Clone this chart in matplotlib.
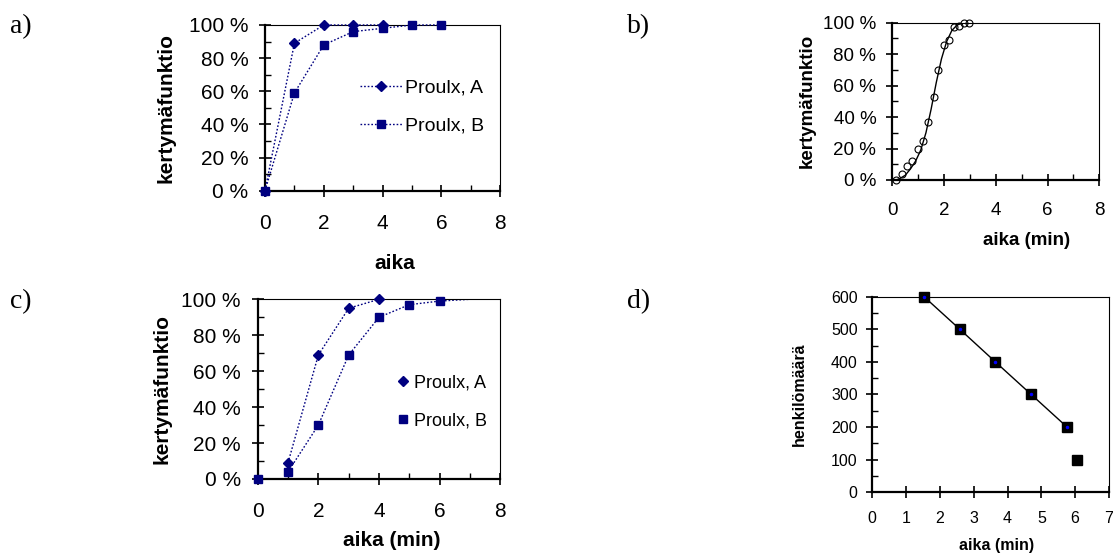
import matplotlib.pyplot as plt
from matplotlib.ticker import MultipleLocator

plt.rcParams['font.family'] = ['Liberation Sans', 'DejaVu Sans']

NAVY = '#000080'
DOT = (0, (1.2, 1.4))

# a) Proulx A ja B
a_x_A = [0, 1, 2, 3, 4]
a_y_A = [0, 89, 100, 100, 100]
a_x_B = [0, 1, 2, 3, 4, 5, 6]
a_y_B = [0, 59, 88, 96, 98, 100, 100]

# b) mitatut pisteet ja sovitettu käyrä
b_x = [0.15, 0.37, 0.57, 0.77, 0.98, 1.17, 1.38, 1.6, 1.78, 1.99, 2.18, 2.37, 2.58, 2.78, 2.98]
b_y = [0, 4, 9, 12, 20, 25, 37, 53, 70, 86, 89, 97, 98, 100, 100]
b_fit_x = [0.15, 0.3, 0.5, 0.7, 0.9, 1.1, 1.3, 1.5, 1.7, 1.9, 2.1, 2.3, 2.5, 2.7, 2.9, 3.0]
b_fit_y = [0, 1, 3, 7, 12, 19, 30, 45, 62, 77, 88, 95, 98.5, 99.7, 100, 100]

# c) Proulx A ja B
c_x_A = [1, 2, 3, 4]
c_y_A = [9, 69, 95, 100]
c_x_B = [0, 1, 2, 3, 4, 5, 6]
c_y_B = [0, 4, 30, 69, 90, 97, 99]
c_line_x_B = [1, 2, 3, 4, 5, 6, 7]
c_line_y_B = [4, 30, 69, 90, 97, 99, 100]

# d) henkilömäärä
d_x = [1.53, 2.59, 3.64, 4.70, 5.76]
d_y = [600, 500, 400, 300, 200]
d_x_last = [6.06]
d_y_last = [100]

pct_ticks = [0, 20, 40, 60, 80, 100]
pct_labels = ['0 %', '20 %', '40 %', '60 %', '80 %', '100 %']


def excel_axes(ax, fs, xpad, ypad):
    for s in ['left', 'bottom']:
        ax.spines[s].set_linewidth(1.6)
    for s in ['top', 'right']:
        ax.spines[s].set_linewidth(0.8)
    ax.tick_params(which='major', direction='inout', length=9, width=1.2,
                   labelsize=fs)
    ax.tick_params(axis='x', which='major', pad=xpad)
    ax.tick_params(axis='y', which='major', pad=ypad)
    ax.tick_params(which='minor', direction='in', length=4, width=1)


fig = plt.figure(figsize=(11.13, 5.54), dpi=100)

# a)
ax = fig.add_axes([0.2381, 0.6558, 0.2114, 0.2991])
ax.plot(a_x_A, a_y_A, ls=DOT, color=NAVY, lw=1, marker='D', ms=5,
        clip_on=False, zorder=3, label='Proulx, A')
ax.plot(a_x_B, a_y_B, ls=DOT, color=NAVY, lw=1, marker='s', ms=6,
        clip_on=False, zorder=3, label='Proulx, B')
ax.set_xlim(0, 8)
ax.set_ylim(0, 100)
ax.set_yticks(pct_ticks)
ax.set_yticklabels(pct_labels)
ax.xaxis.set_major_locator(MultipleLocator(2))
ax.xaxis.set_minor_locator(MultipleLocator(1))
ax.yaxis.set_minor_locator(MultipleLocator(10))
excel_axes(ax, 15, 12, 7.5)
ax.set_ylabel('kertymäfunktio', fontsize=15, fontweight='bold')
ax.set_xlabel('aika', fontsize=15, fontweight='bold')
ax.yaxis.set_label_coords(-0.38, 0.5)
ax.xaxis.set_label_coords(0.55, -0.38)
ax.legend(loc='upper left', bbox_to_anchor=(0.37, 0.72), frameon=False,
          fontsize=14, handlelength=2.2, handletextpad=0.1, labelspacing=1.05,
          borderaxespad=0)

# b)
ax = fig.add_axes([0.8017, 0.6751, 0.1860, 0.2839])
ax.plot(b_fit_x, b_fit_y, '-', color='black', lw=1)
ax.plot(b_x, b_y, 'o', mfc='none', mec='black', ms=5, mew=0.8, clip_on=False)
ax.set_xlim(0, 8)
ax.set_ylim(0, 100)
ax.set_yticks(pct_ticks)
ax.set_yticklabels(pct_labels)
ax.xaxis.set_major_locator(MultipleLocator(2))
ax.xaxis.set_minor_locator(MultipleLocator(1))
ax.yaxis.set_minor_locator(MultipleLocator(10))
excel_axes(ax, 13.5, 11, 7)
ax.set_ylabel('kertymäfunktio', fontsize=13.5, fontweight='bold')
ax.set_xlabel('aika (min)', fontsize=13.5, fontweight='bold')
ax.yaxis.set_label_coords(-0.37, 0.5)
ax.xaxis.set_label_coords(0.65, -0.33)

# c)
ax = fig.add_axes([0.2315, 0.1354, 0.2181, 0.3244])
ax.plot(c_x_A, c_y_A, ls=DOT, color=NAVY, lw=1)
ax.plot(c_line_x_B, c_line_y_B, ls=DOT, color=NAVY, lw=1)
ax.plot(c_x_A, c_y_A, 'D', color=NAVY, ms=5, ls='none', clip_on=False,
        zorder=3, label='Proulx, A')
ax.plot(c_x_B, c_y_B, 's', color=NAVY, ms=6, ls='none', clip_on=False,
        zorder=3, label='Proulx, B')
ax.set_xlim(0, 8)
ax.set_ylim(0, 100)
ax.set_yticks(pct_ticks)
ax.set_yticklabels(pct_labels)
ax.xaxis.set_major_locator(MultipleLocator(2))
ax.xaxis.set_minor_locator(MultipleLocator(1))
ax.yaxis.set_minor_locator(MultipleLocator(10))
excel_axes(ax, 15, 12, 7.5)
ax.set_ylabel('kertymäfunktio', fontsize=15, fontweight='bold')
ax.set_xlabel('aika (min)', fontsize=15, fontweight='bold')
ax.yaxis.set_label_coords(-0.355, 0.5)
ax.xaxis.set_label_coords(0.552, -0.29)
ax.legend(loc='upper left', bbox_to_anchor=(0.54, 0.62), frameon=False,
          fontsize=13, handlelength=0.8, handletextpad=0.2, labelspacing=1.15,
          borderaxespad=0)

# d)
ax = fig.add_axes([0.7837, 0.1114, 0.2127, 0.3531])
ax.plot(d_x, d_y, '-', color='black', lw=1, marker='s', ms=7.5, mfc='black',
        mec='black', clip_on=False, zorder=3)
ax.plot(d_x, d_y, 'o', color='blue', ms=1.5, ls='none', clip_on=False, zorder=4)
ax.plot(d_x_last, d_y_last, 's', color='black', ms=7.5, ls='none')
ax.set_xlim(0, 7)
ax.set_ylim(0, 600)
ax.xaxis.set_major_locator(MultipleLocator(1))
ax.yaxis.set_major_locator(MultipleLocator(100))
ax.yaxis.set_minor_locator(MultipleLocator(50))
excel_axes(ax, 11.5, 9, 6)
ax.set_ylabel('henkilömäärä', fontsize=11.5, fontweight='bold')
ax.set_xlabel('aika (min)', fontsize=11.5, fontweight='bold')
ax.yaxis.set_label_coords(-0.275, 0.5)
ax.xaxis.set_label_coords(0.523, -0.235)

# kuvien kirjaimet
for x, y, s in [(0.009, 0.975, 'a)'), (0.563, 0.975, 'b)'),
                (0.009, 0.478, 'c)'), (0.563, 0.478, 'd)')]:
    fig.text(x, y, s, fontsize=20, family='Liberation Serif', va='top')

fig.savefig('out.png', dpi=100)
